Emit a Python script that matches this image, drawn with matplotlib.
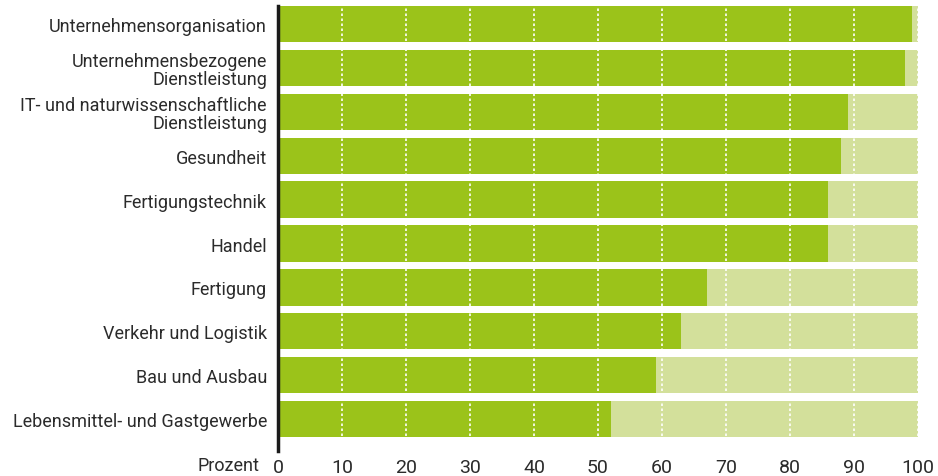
import matplotlib as mpl
mpl.use('Agg')
from matplotlib import pyplot as plt

plt.rcParams['font.family'] = ['Roboto', 'DejaVu Sans']

# Anteil in Prozent (dunkler Teil), Rest bis 100 hell
categories = ['Unternehmensorganisation',
              'Unternehmensbezogene\nDienstleistung',
              'IT- und naturwissenschaftliche\nDienstleistung',
              'Gesundheit',
              'Fertigungstechnik',
              'Handel',
              'Fertigung',
              'Verkehr und Logistik',
              'Bau und Ausbau',
              'Lebensmittel- und Gastgewerbe']
share = [99, 98, 89, 88, 86, 86, 67, 63, 59, 52]
xticks = [0, 10, 20, 30, 40, 50, 60, 70, 80, 90, 100]

dark = '#9bc31a'
light = '#d3e09b'
textcol = '#2b2b2b'

W, H = 938, 477
fig = plt.figure(figsize=(W / 100, H / 100), dpi=100)
ax = fig.add_axes([278 / W, 1 - 452 / H, 640 / W, 445 / H])

ypos = list(range(len(categories)))
rest = [100 - s for s in share]
ax.barh(ypos, share, height=0.83, color=dark, zorder=1)
ax.barh(ypos, rest, left=share, height=0.83, color=light, zorder=1)

# weisse gepunktete Gitterlinien ueber den Balken
for v in xticks[1:]:
    ax.axvline(v, color='white', lw=1.2, ls=(0, (1.5, 1.5)), zorder=2)

ax.set_xlim(0, 100)
ax.set_ylim(9.73, -0.415)
ax.set_yticks(ypos)
ax.set_yticklabels(categories, fontsize=13, color=textcol, linespacing=1.0)
for lab in ax.get_yticklabels():
    lab.set_multialignment('right')
ax.set_xticks(xticks)
ax.set_xticklabels([str(v) for v in xticks], fontsize=14, color=textcol)
ax.tick_params(axis='y', length=0, pad=8)
ax.tick_params(axis='x', length=0, pad=5)

for s in ['top', 'right', 'bottom']:
    ax.spines[s].set_visible(False)
ax.spines['left'].set_linewidth(2.5)
ax.spines['left'].set_color('#1a1a1a')

fig.text(259 / W, 1 - 466 / H, 'Prozent', ha='right', va='center', fontsize=13, color=textcol)

plt.savefig('out.png', dpi=100)
plt.close()
